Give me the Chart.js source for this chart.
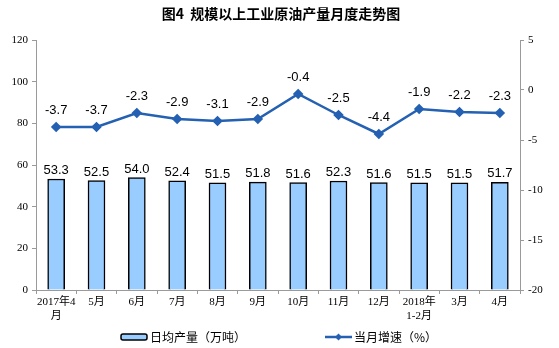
<!DOCTYPE html>
<html>
<head>
<meta charset="utf-8">
<script src="https://cdn.jsdelivr.net/npm/chart.js@4/dist/chart.umd.min.js"></script>
<style>
  html, body { margin: 0; padding: 0; background: #fff; }
  #wrap { width: 559px; height: 348px; }
</style>
</head>
<body>
<div id="wrap"><canvas id="oilChart" width="559" height="348"></canvas></div>
<script>
const months = [["2017年4", "月"], "5月", "6月", "7月", "8月", "9月", "10月", "11月", "12月", ["2018年", "1-2月"], "3月", "4月"];
const dailyOutput = [53.3, 52.5, 54.0, 52.4, 51.5, 51.8, 51.6, 52.3, 51.6, 51.5, 51.5, 51.7];
const monthlyGrowth = [-3.7, -3.7, -2.3, -2.9, -3.1, -2.9, -0.4, -2.5, -4.4, -1.9, -2.2, -2.3];
const leftTicks = [0, 20, 40, 60, 80, 100, 120];
const rightTicks = [-20, -15, -10, -5, 0, 5];

const TITLE = "图4  规模以上工业原油产量月度走势图";
const BAR_NAME = "日均产量（万吨）";
const LINE_NAME = "当月增速（%）";

const BAR_FILL = '#99CCFF';
const LINE_COLOR = '#2461B2';
const AXIS_COLOR = '#9a9a9a';
const TICK_FONT = "'Liberation Serif', 'Noto Sans CJK SC', serif";
const LABEL_FONT = "'Liberation Sans', Arial, sans-serif";
const CJK_FONT = "'Noto Sans CJK SC', sans-serif";

// title, value labels and the bottom legend are painted by hand
const extrasPlugin = {
  id: 'extras',
  afterDatasetsDraw(chart) {
    const ctx = chart.ctx;
    ctx.save();
    ctx.fillStyle = '#000';
    ctx.textAlign = 'center';
    ctx.textBaseline = 'alphabetic';
    ctx.font = "13px " + LABEL_FONT;

    const barMeta = chart.getDatasetMeta(0);
    barMeta.data.forEach((el, i) => {
      ctx.fillText(dailyOutput[i].toFixed(1), el.x, el.y - 5);
    });
    const lineMeta = chart.getDatasetMeta(1);
    lineMeta.data.forEach((el, i) => {
      ctx.fillText(monthlyGrowth[i].toFixed(1), el.x, el.y - 13);
    });

    // title
    ctx.font = "bold 14px " + CJK_FONT;
    ctx.textBaseline = 'middle';
    ctx.fillText(TITLE, 281, 14);

    // legend
    const ly = 337;
    ctx.textAlign = 'left';
    ctx.font = "12px " + CJK_FONT;
    ctx.fillStyle = BAR_FILL;
    ctx.strokeStyle = '#000';
    ctx.lineWidth = 1.5;
    ctx.beginPath();
    ctx.roundRect(121, ly - 3, 26, 6, 2);
    ctx.fill();
    ctx.stroke();
    ctx.fillStyle = '#000';
    ctx.fillText(BAR_NAME, 150, ly);

    ctx.strokeStyle = LINE_COLOR;
    ctx.lineWidth = 2.5;
    ctx.beginPath();
    ctx.moveTo(325, ly);
    ctx.lineTo(352, ly);
    ctx.stroke();
    ctx.fillStyle = LINE_COLOR;
    ctx.beginPath();
    ctx.moveTo(338.5, ly - 3.5);
    ctx.lineTo(342, ly);
    ctx.lineTo(338.5, ly + 3.5);
    ctx.lineTo(335, ly);
    ctx.closePath();
    ctx.fill();
    ctx.fillStyle = '#000';
    ctx.fillText(LINE_NAME, 354, ly);
    ctx.restore();
  }
};

new Chart(document.getElementById('oilChart'), {
  type: 'bar',
  data: {
    labels: months,
    datasets: [
      {
        label: BAR_NAME,
        data: dailyOutput,
        backgroundColor: BAR_FILL,
        borderColor: '#000',
        borderWidth: 1.5,
        barThickness: 17,
        yAxisID: 'y',
        order: 2
      },
      {
        type: 'line',
        label: LINE_NAME,
        data: monthlyGrowth,
        borderColor: LINE_COLOR,
        backgroundColor: LINE_COLOR,
        borderWidth: 2.5,
        pointStyle: 'rectRot',
        pointRadius: 3.5,
        pointBackgroundColor: LINE_COLOR,
        pointBorderColor: LINE_COLOR,
        tension: 0,
        fill: false,
        yAxisID: 'y2',
        order: 1
      }
    ]
  },
  options: {
    responsive: false,
    animation: false,
    layout: { padding: { top: 40, left: 0, right: 0, bottom: 0 } },
    plugins: {
      legend: { display: false },
      title: { display: false },
      tooltip: { enabled: false }
    },
    scales: {
      x: {
        offset: true,
        grid: { display: true, offset: true, drawOnChartArea: false, color: AXIS_COLOR, tickLength: 4 },
        border: { color: AXIS_COLOR, width: 1 },
        ticks: { color: '#000', font: { family: TICK_FONT, size: 11 }, maxRotation: 0, autoSkip: false, padding: 2 },
        afterFit: axis => { axis.height = 58; }
      },
      y: {
        position: 'left',
        min: 0,
        max: 120,
        afterBuildTicks: axis => { axis.ticks = leftTicks.map(v => ({ value: v })); },
        grid: { display: true, drawOnChartArea: false, color: AXIS_COLOR, tickLength: 4 },
        border: { color: AXIS_COLOR, width: 1 },
        ticks: { color: '#000', font: { family: TICK_FONT, size: 11 }, padding: 4 },
        afterFit: axis => { axis.width = 36; }
      },
      y2: {
        position: 'right',
        min: -20,
        max: 5,
        afterBuildTicks: axis => { axis.ticks = rightTicks.map(v => ({ value: v })); },
        grid: { display: true, drawOnChartArea: false, color: AXIS_COLOR, tickLength: 4 },
        border: { color: AXIS_COLOR, width: 1 },
        ticks: { color: '#000', font: { family: TICK_FONT, size: 11 }, padding: 4 },
        afterFit: axis => { axis.width = 39; }
      }
    }
  },
  plugins: [extrasPlugin]
});
</script>
</body>
</html>
